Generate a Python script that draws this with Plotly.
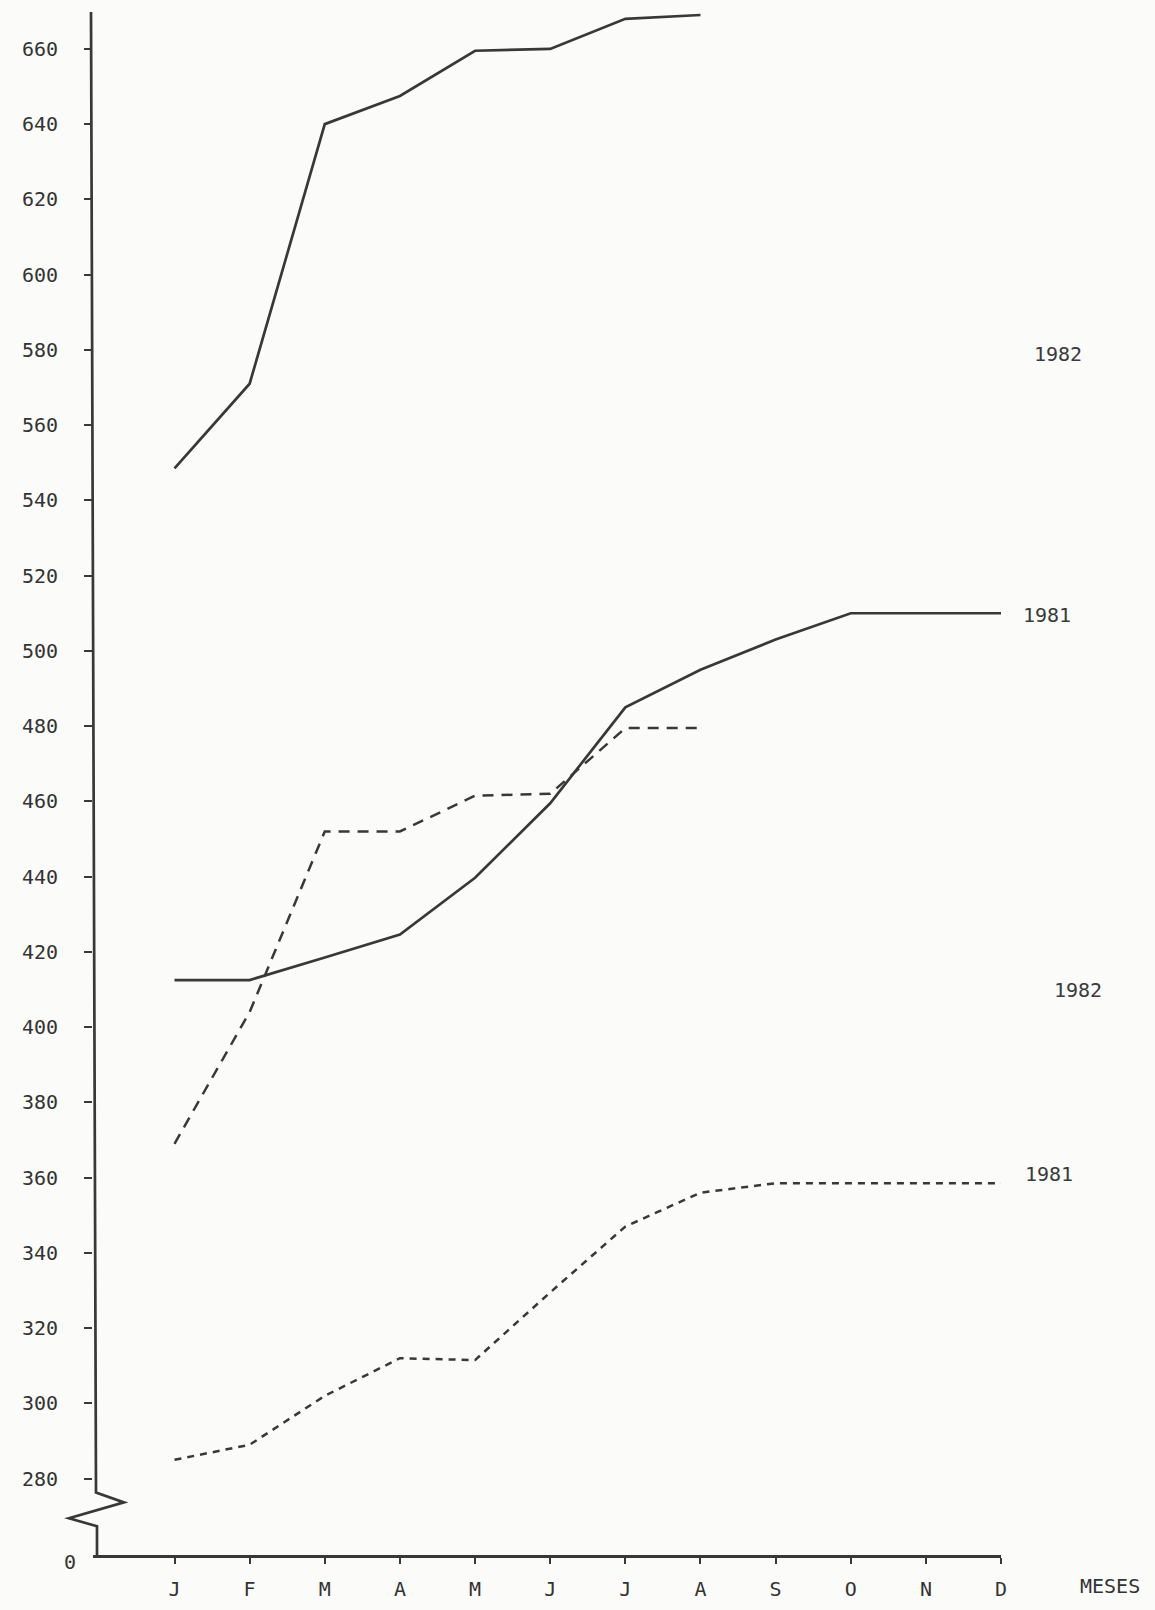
import plotly.graph_objects as go

# meses (1 = Janeiro ... 12 = Dezembro)
meses = list(range(1, 13))
meses_rotulos = ["J", "F", "M", "A", "M", "J", "J", "A", "S", "O", "N", "D"]

# valores
linha_cheia_1982 = [548.5, 571, 640, 647.5, 659.5, 660, 668, 669]
linha_cheia_1981 = [412.5, 412.5, 418.5, 424.6, 439.7, 459.5, 485, 495, 503, 510, 510, 510]
tracejada_1982 = [369, 404, 452, 452, 461.5, 462, 479.5, 479.5]
tracejada_1981 = [285, 289, 302, 312, 311.5, 329.5, 347, 356, 358.5, 358.5, 358.5, 358.5]

y_ticks = list(range(280, 661, 20))

W, H = 1155, 1610
L, R, T, B = 93, 1001, 9, 1566
Y0, Y1 = 259.7, 670.6
PASSO = 75.14  # pixels por mes
COR = "#383838"
FONTE = "DejaVu Sans Mono"


def px(x, y):
    # pixel -> coordenadas paper
    return (x - L) / (R - L), (B - y) / (B - T)


fig = go.Figure()

fig.add_trace(go.Scatter(x=meses[:len(linha_cheia_1982)], y=linha_cheia_1982,
                         mode='lines', line=dict(color=COR, width=2.7),
                         name='1982'))
fig.add_trace(go.Scatter(x=meses, y=linha_cheia_1981,
                         mode='lines', line=dict(color=COR, width=2.7),
                         name='1981'))
fig.add_trace(go.Scatter(x=meses[:len(tracejada_1982)], y=tracejada_1982,
                         mode='lines', line=dict(color=COR, width=2.5, dash='11px,8px'),
                         name='1982'))
fig.add_trace(go.Scatter(x=meses, y=tracejada_1981,
                         mode='lines', line=dict(color=COR, width=2.5, dash='7px,6px'),
                         name='1981'))

# eixo y com quebra (zigue-zague)
pts = [px(L - 2, 12), px(L + 3, 1503), px(L + 31, 1513), px(L - 24, 1529), px(L + 4, 1537), px(L + 4, B)]
path = "M " + " L ".join(f"{a:.5f},{b:.5f}" for a, b in pts)
fig.add_shape(type='path', path=path, xref='paper', yref='paper',
              line=dict(color=COR, width=2.7))

# rotulos das series
rotulos = [("1982", 1058, 578.8), ("1981", 1047, 509.6),
           ("1982", 1078, 410), ("1981", 1049, 361)]
for txt, xp, yv in rotulos:
    fig.add_annotation(text=txt, x=px(xp, 0)[0], xref='paper', y=yv, yref='y',
                       xanchor='center', yanchor='middle',
                       showarrow=False, font=dict(family=FONTE, size=20, color="#3a3a3a"))

fig.add_annotation(text="0", x=px(70, 0)[0], xref='paper', y=px(0, 1573)[1], yref='paper',
                   xanchor='center', yanchor='middle',
                   showarrow=False, font=dict(family=FONTE, size=20, color="#333"))
fig.add_annotation(text="MESES", x=px(1110, 0)[0], xref='paper', y=px(0, 1597)[1], yref='paper',
                   xanchor='center', yanchor='middle',
                   showarrow=False, font=dict(family=FONTE, size=20, color="#333"))

fig.update_xaxes(range=[1 - (174.5 - L) / PASSO, 1 + (R - 174.5) / PASSO],
                 tickvals=meses, ticktext=meses_rotulos,
                 showgrid=False, zeroline=False, showline=True, linecolor=COR, linewidth=2.5,
                 ticks='outside', ticklen=6, tickwidth=2, tickcolor=COR,
                 ticklabelstandoff=8,
                 tickfont=dict(family=FONTE, size=20, color="#333"))
fig.update_yaxes(range=[Y0, Y1], tickvals=y_ticks,
                 showgrid=False, zeroline=False, showline=False,
                 ticks='outside', ticklen=8, tickwidth=2, tickcolor=COR,
                 ticklabelstandoff=22,
                 tickfont=dict(family=FONTE, size=20, color="#333"))

fig.update_layout(width=W, height=H, showlegend=False,
                  margin=dict(l=L, r=W - R, t=T, b=H - B),
                  plot_bgcolor="#fbfbfa", paper_bgcolor="#fbfbfa")

js = """
document.body.style.margin='0';
document.body.style.overflow='hidden';
document.body.style.background='#fbfbfa';
"""
fig.write_html("out.html", config={'displayModeBar': False}, post_script=js)
